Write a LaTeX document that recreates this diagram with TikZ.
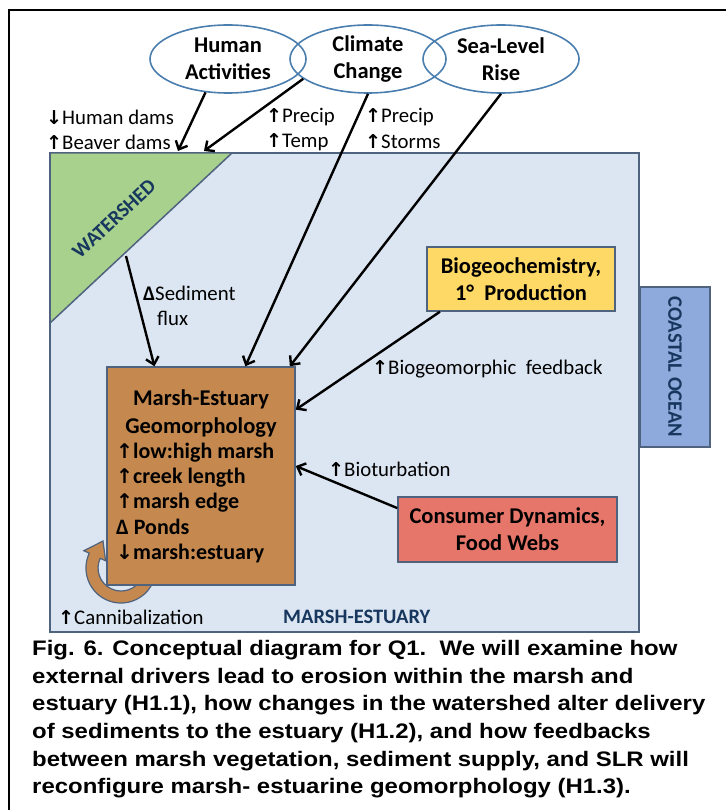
\documentclass[tikz,border=0pt]{standalone}
\usepackage{fontspec}
\setmainfont{Carlito}
\newfontfamily\capfont[FakeStretch=1.14]{Liberation Sans}
\newfontfamily\arrfont[Scale=0.92]{DejaVu Sans}
\usetikzlibrary{shapes, arrows.meta, positioning, calc}
\definecolor{marshblue}{RGB}{220,230,242}
\definecolor{edgeslate}{RGB}{79,98,126}
\definecolor{shedgreen}{RGB}{169,209,142}
\definecolor{oceanblue}{RGB}{142,169,219}
\definecolor{biogold}{RGB}{255,217,102}
\definecolor{consred}{RGB}{230,117,106}
\definecolor{geobrown}{RGB}{197,137,79}
\definecolor{ellblue}{RGB}{74,126,175}
\definecolor{navytext}{RGB}{23,55,94}
\newcommand{\ua}{{\arrfont\bfseries ↑}}
\newcommand{\da}{{\arrfont\bfseries ↓}}

\begin{document}
\begin{tikzpicture}[x=1pt, y=-1pt,
  driver/.style={ellipse, draw=ellblue, line width=1.6pt, minimum width=156pt, minimum height=68pt, inner sep=0pt, align=center, font=\fontsize{22.5}{27.5}\selectfont\bfseries},
  pbox/.style={draw=edgeslate, line width=1.5pt, align=center, inner sep=0pt, font=\fontsize{22.5}{27}\selectfont\bfseries},
  lbl/.style={anchor=west, inner sep=0pt, font=\fontsize{20.8}{25}\selectfont},
  zone/.style={inner sep=0pt, text=navytext, font=\fontsize{20.5}{24}\selectfont\bfseries},
  link/.style={line width=2.4pt, -{Straight Barb[length=7pt, width=13pt, line width=2.4pt]}}
]
  \useasboundingbox (0,0) rectangle (725,810);
  \draw[line width=2.5pt] (9,10) rectangle (745,830);

  \draw[edgeslate, fill=marshblue, line width=2pt] (50,153) rectangle (639,632);
  \draw[edgeslate, fill=shedgreen, line width=1.5pt] (50,153) -- (232,153) -- (50,323) -- cycle;
  \node[zone, rotate=43] (wszone) at (114,219) {WATERSHED};
  \node[pbox, fill=oceanblue, rotate=-90, minimum width=160pt, minimum height=70pt,
        text=navytext, font=\fontsize{20.5}{24}\selectfont\bfseries] (ocean) at (675,367) {COASTAL OCEAN};

  \node[driver] (hum) at (228,59) {Human\\Activities};
  \node[driver] (cli) at (368,59) {Climate\\Change};
  \node[driver] (sea) at (501,59) {Sea-Level\\Rise};

  \node[lbl] (hdam) at (46,117) {\da Human dams};
  \node[lbl] (bdam) at (46,142) {\ua Beaver dams};
  \node[lbl] (prcA) at (266,117) {\ua Precip};
  \node[lbl] (temp) at (266,142) {\ua Temp};
  \node[lbl] (prcB) at (365,117) {\ua Precip};
  \node[lbl] (storm) at (365,142) {\ua Storms};
  \node[lbl, align=left] (sedflux) at (143,306) {{\bfseries Δ}Sediment\\\hspace*{14pt}flux};
  \node[lbl] (biofb) at (372,369) {\ua Biogeomorphic\ \ feedback};
  \node[lbl] (biotb) at (328,469) {\ua Bioturbation};
  \node[lbl] (canni) at (58,617) {\ua Cannibalization};
  \node[zone, anchor=west] (mezone) at (283,617) {MARSH-ESTUARY};

  \draw[edgeslate, fill=geobrown, line width=1.2pt]
    (152.7,582.8) arc[start angle=25, end angle=205, radius=35]
    -- (83.9,550.7) -- (103,541) -- (105.6,560.8) -- (100.2,558.3)
    arc[start angle=205, end angle=25, radius=23] -- cycle;

  \node[draw=edgeslate, fill=geobrown, line width=1.5pt, minimum width=188pt, minimum height=218pt, inner sep=0pt] (geo) at (201,476) {};
  \node[inner sep=0pt, align=center, font=\fontsize{22.5}{28}\selectfont\bfseries] (geotitle) at (201,414) {Marsh-Estuary\\Geomorphology};
  \node[lbl, align=left, font=\fontsize{22}{25.3}\selectfont\bfseries] (geolist) at (116,503)
    {\ua low:high marsh\\\ua creek length\\\ua marsh edge\\Δ Ponds\\\da marsh:estuary};

  \node[pbox, fill=biogold, minimum width=188pt, minimum height=64pt] (bio) at (521,279) {Biogeochemistry,\\1°\ \ Production};
  \node[pbox, fill=consred, minimum width=219pt, minimum height=65pt] (cons) at (507.5,529.5) {Consumer Dynamics,\\Food Webs};

  \coordinate (shedA) at (178,151);
  \coordinate (shedB) at (204,151);
  \coordinate (shedC) at (126,256);
  \draw[link] (hum.236) -- (shedA);
  \draw[link] (cli.197) -- (shedB);
  \draw[link] (shedC) -- (geo.113);
  \draw[link] (cli.south) -- (geo.68);
  \draw[link] (sea.south) -- (geo.51);
  \draw[link] (bio.202) -- (geo.35);
  \draw[link] (cons.169) -- (geo.6);

  \node[anchor=north west, inner sep=0pt, align=left, font=\capfont\fontsize{21}{27.7}\selectfont\bfseries] (caption) at (32,640)
    {Fig. 6. Conceptual diagram for Q1.\ \ We will examine how\\
     external drivers lead to erosion within the marsh and\\
     estuary (H1.1), how changes in the watershed alter delivery\\
     of sediments to the estuary (H1.2), and how feedbacks\\
     between marsh vegetation, sediment supply, and SLR will\\
     reconfigure marsh- estuarine geomorphology (H1.3).};
\end{tikzpicture}
\end{document}
